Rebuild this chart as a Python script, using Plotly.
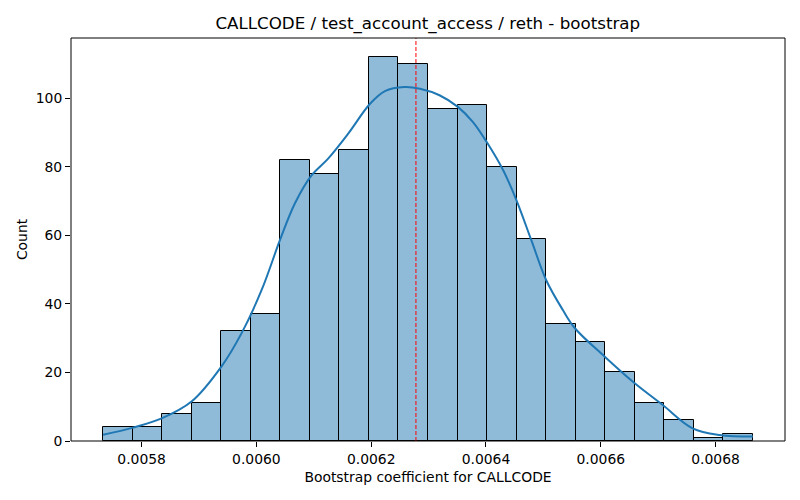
import plotly.graph_objects as go

# Histogram of bootstrap coefficients (22 bins)
bin_start = 0.005733
bin_width = 0.00005145
counts = [4, 4, 8, 11, 32, 37, 82, 78, 85, 112, 110, 97, 98, 80, 59, 34, 29, 20, 11, 6, 1, 2]

# KDE curve (scaled to counts)
kde_x = [0.005733, 0.005785, 0.005835, 0.005887, 0.005939, 0.005974, 0.006009, 0.006041,
         0.006067, 0.006096, 0.006125, 0.006160, 0.006198, 0.006224, 0.006258, 0.006285,
         0.006319, 0.006351, 0.006377, 0.006401, 0.006430, 0.006453, 0.006479, 0.006505,
         0.006534, 0.006555, 0.006607, 0.006656, 0.006708, 0.006760, 0.006807, 0.006865]
kde_y = [1.8, 3.9, 6.6, 11.5, 21.7, 31.4, 44.0, 58.6,
         69.3, 77.5, 82.4, 89.7, 98.4, 102.1, 103.3, 102.8,
         100.9, 97.5, 93.1, 87.3, 79.0, 70.3, 58.6, 46.9,
         38.2, 32.9, 24.6, 17.3, 10.5, 3.7, 1.75, 1.3]

mean_value = 0.006278

centers = [bin_start + (i + 0.5) * bin_width for i in range(len(counts))]

fig = go.Figure()

fig.add_trace(go.Bar(
    x=centers, y=counts, width=bin_width,
    marker=dict(color='rgba(31,119,180,0.5)', line=dict(color='black', width=1)),
    showlegend=False
))

fig.add_trace(go.Scatter(
    x=kde_x, y=kde_y, mode='lines', line=dict(color='#1f77b4', width=2, shape='spline'),
    showlegend=False
))

# mean line
fig.add_shape(type='line', x0=mean_value, x1=mean_value, y0=0, y1=1, yref='paper',
              line=dict(color='red', width=1, dash='4px,2px'))

# axes frame
fig.add_shape(type='rect', xref='paper', yref='paper', x0=0, x1=1, y0=0, y1=1,
              line=dict(color='black', width=1), layer='above')

axis_style = dict(showline=False, ticks='outside', ticklen=5, tickcolor='black', showgrid=False,
                  zeroline=False, tickfont=dict(size=13.9, color='black'), automargin=False)

# page body adds 8px margin, so the figure is 8px smaller and margins shifted
fig.update_layout(
    width=792, height=492,
    margin=dict(l=63, r=15, t=30, b=59),
    plot_bgcolor='white', paper_bgcolor='white',
    font=dict(family='DejaVu Sans', color='black'),
    title=dict(text='CALLCODE / test_account_access / reth - bootstrap', x=0.530, xanchor='center',
               y=0.969, yanchor='middle', font=dict(size=16.7)),
    bargap=0,
    xaxis=dict(range=[0.005677, 0.006921], tickvals=[0.0058, 0.0060, 0.0062, 0.0064, 0.0066, 0.0068],
               ticktext=['0.0058', '0.0060', '0.0062', '0.0064', '0.0066', '0.0068'],
               title=dict(text='Bootstrap coefficient for CALLCODE', font=dict(size=13.9), standoff=6),
               **axis_style),
    yaxis=dict(range=[0, 117.6], tickvals=[0, 20, 40, 60, 80, 100],
               title=dict(text='Count', font=dict(size=13.9), standoff=4), **axis_style),
)

fig.write_html("out.html")
